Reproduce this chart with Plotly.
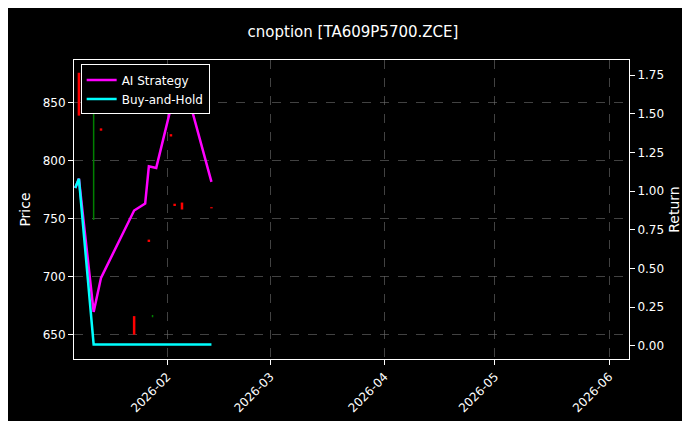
import plotly.graph_objects as go

c_dates = ["2026-01-08", "2026-01-12", "2026-01-14", "2026-01-23", "2026-01-27", "2026-01-28",
           "2026-02-02", "2026-02-03", "2026-02-05", "2026-02-13"]
c_open = [876, 749, 828, 666, 732, 665, 823, 763, 764, 760]
c_high = [876, 854, 828, 666, 732, 667, 823, 763, 764, 760]
c_low = [839, 749, 826, 650, 730, 665, 821, 761, 758, 759]
c_close = [839, 854, 826, 650, 730, 667, 821, 761, 758, 759]

ai_dates = ["2026-01-07", "2026-01-08", "2026-01-12", "2026-01-14", "2026-01-23", "2026-01-26",
            "2026-01-27", "2026-01-29", "2026-02-02", "2026-02-03", "2026-02-05", "2026-02-13"]
ai_ret = [1.02, 1.08, 0.22, 0.44, 0.875, 0.92, 1.16, 1.15, 1.54, 1.76, 1.76, 1.06]

bh_dates = ["2026-01-07", "2026-01-08", "2026-01-12", "2026-02-13"]
bh_ret = [1.02, 1.08, 0.01, 0.01]

fig = go.Figure()
for up, color in [(True, "green"), (False, "red")]:
    xs, ys = [], []
    for d, o, h, l, c in zip(c_dates, c_open, c_high, c_low, c_close):
        if (c >= o) == up:
            xs += [d, d, None]
            ys += [l, h, None]
    fig.add_trace(go.Scatter(x=xs, y=ys, mode="lines", line=dict(color=color, width=1.5 if up else 2.5),
                             showlegend=False, yaxis="y", hoverinfo="skip"))
fig.add_trace(go.Scatter(x=ai_dates, y=ai_ret, mode="lines", name="AI Strategy",
                         line=dict(color="#ff00ff", width=2.5), yaxis="y2"))
fig.add_trace(go.Scatter(x=bh_dates, y=bh_ret, mode="lines", name="Buy-and-Hold",
                         line=dict(color="#00ffff", width=2.5), yaxis="y2"))

grid = dict(showgrid=True, gridcolor="rgba(110,110,110,0.6)", griddash="dash", gridwidth=0.5)
fig.update_layout(
    width=690, height=421, paper_bgcolor="black", plot_bgcolor="black",
    font=dict(family="DejaVu Sans", color="white", size=12),
    title=dict(text="cnoption [TA609P5700.ZCE]", x=0.5, xanchor="center", y=0.955, font=dict(size=15)),
    margin=dict(l=66, r=69, t=52, b=70),
    xaxis=dict(range=["2026-01-06 16:00", "2026-06-06 10:00"], rangeslider=dict(visible=False),
               tickvals=["2026-02-01", "2026-03-01", "2026-04-01", "2026-05-01", "2026-06-01"],
               ticktext=["2026-02", "2026-03", "2026-04", "2026-05", "2026-06"],
               tickangle=-45, ticks="outside", tickcolor="white", showline=True, linecolor="white",
               mirror=True, zeroline=False, automargin=False, tickfont=dict(size=12), **grid),
    yaxis=dict(title=dict(text="Price", standoff=8), range=[629, 887], tickvals=[650, 700, 750, 800, 850],
               ticks="outside", tickcolor="white", showline=True, linecolor="white", zeroline=False,
               automargin=False, **grid),
    yaxis2=dict(title=dict(text="Return", standoff=6), overlaying="y", side="right", range=[-0.084, 1.847],
                tickvals=[0, 0.25, 0.5, 0.75, 1.0, 1.25, 1.5, 1.75], tickformat=".2f",
                ticks="outside", tickcolor="white", showline=True, linecolor="white",
                zeroline=False, showgrid=False, automargin=False),
    legend=dict(x=0.012, y=0.985, xanchor="left", yanchor="top", bgcolor="black",
                bordercolor="white", borderwidth=1, font=dict(size=12)),
)
fig.write_html("out.html")
